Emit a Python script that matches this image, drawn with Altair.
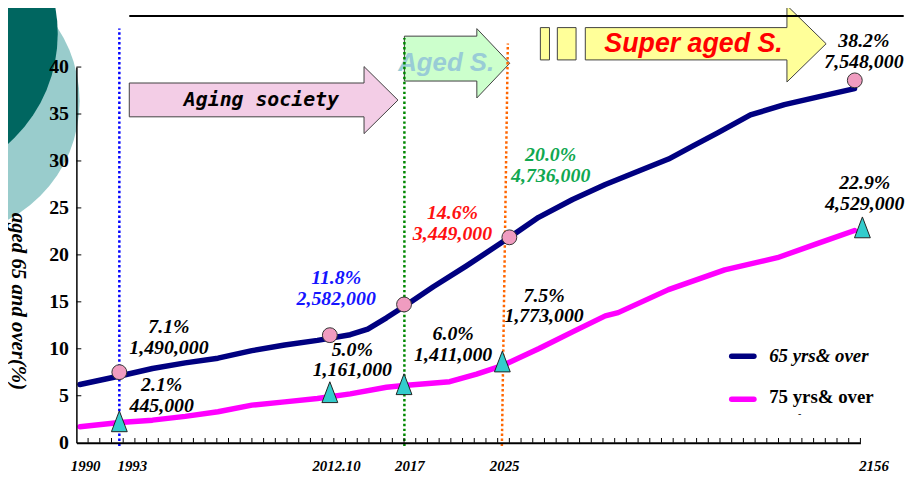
import altair as alt
import pandas as pd

# ---------------- data (x in tick units along the time axis, y in %) ----------------
X_MAX = 67
Y_MAX = 40
Y_TICKS = [0, 5, 10, 15, 20, 25, 30, 35, 40]

pos65 = [0.3, 3.7, 6.5, 9.3, 12.1, 15.0, 17.8, 20.6, 23.4, 24.9, 26.5, 28.0, 30.5, 33.3,
         36.7, 39.5, 42.4, 45.2, 48.0, 50.6, 52.7, 54.8, 57.6, 60.5, 63.3, 66.5]
pct65 = [6.2, 7.1, 7.9, 8.5, 9.0, 9.8, 10.4, 10.9, 11.5, 12.1, 13.3, 14.5, 16.6, 18.8,
         21.6, 24.0, 25.9, 27.5, 28.9, 30.2, 31.6, 33.0, 34.9, 36.0, 36.8, 37.7]
pos75 = [0.3, 3.7, 6.5, 9.3, 12.1, 15.0, 17.8, 20.6, 23.4, 26.5, 28.0, 31.9, 34.2, 36.4,
         39.5, 42.4, 45.2, 46.3, 50.6, 55.4, 59.9, 63.3, 66.5]
pct75 = [1.7, 2.15, 2.4, 2.8, 3.3, 4.0, 4.35, 4.7, 5.2, 5.9, 6.1, 6.5, 7.3, 8.2,
         10.0, 11.8, 13.5, 13.85, 16.3, 18.4, 19.7, 21.2, 22.6]

circle_x = [3.67, 21.66, 28.0, 37.0, 66.52]
circle_y = [7.51, 11.45, 14.72, 21.87, 38.58]
tri_x = [3.67, 21.66, 28.0, 36.4, 67.17]
tri_y = [2.28, 5.38, 6.23, 8.65, 22.93]

ann_pct = ["7.1%", "2.1%", "11.8%", "5.0%", "6.0%", "7.5%", "14.6%", "20.0%", "38.2%", "22.9%"]
ann_cnt = ["1,490,000", "445,000", "2,582,000", "1,161,000", "1,411,000", "1,773,000",
           "3,449,000", "4,736,000", "7,548,000", "4,529,000"]
ann_x = [7.91, 7.29, 22.2, 23.58, 32.2, 39.97, 32.14, 40.53, 67.3, 67.37]
ann_y = [12.3, 6.1, 17.5, 9.9, 11.6, 15.65, 24.45, 30.6, 42.75, 27.6]
ann_color = ["black", "black", "#1515FF", "black", "black", "black", "#FF1010", "#10A850",
             "black", "black"]

xlab_text = ["1990", "1993", "2012.10", "2017", "2025", "2156"]
xlab_pos = [0.79, 4.78, 22.23, 28.5, 36.6, 68.16]

# vertical dotted markers
vl_xb = [3.67, 28.03, 36.36]
vl_xt = [3.67, 28.03, 36.87]
vl_yt = [44.1, 43.1, 42.5]
vl_color = ["#0000FF", "#008800", "#FF6600"]

# arrows: x_left, x_head, x_tip, body_lo, body_hi, head_lo, head_hi, fill
arrows = [
    (4.52, 24.58, 27.48, 34.7, 38.3, 32.91, 40.05, "#F3CDE6"),
    (28.03, 34.22, 37.03, 38.51, 43.29, 36.71, 44.09, "#CCFFCC"),
    (43.49, 60.72, 64.07, 40.76, 44.2, 38.41, 46.55, "#FFFF99"),
]
rect_x = [39.65, 41.1]
rect_x2 = [40.43, 42.7]
rect_y = [40.76, 40.76]
rect_y2 = [44.2, 44.2]

# decorative circles top-left (light one first, dark one on top)
deco_x = [-11.16, -14.13]
deco_y = [36.36, 43.54]
deco_size = [72900, 87616]
deco_color = ["#99CCCC", "#006660"]

# ---------------- helpers ----------------
XS = alt.Scale(domain=[0, X_MAX], nice=False, zero=False)
YS = alt.Scale(domain=[0, Y_MAX], nice=False, zero=False)
AX = alt.Axis(labels=False, ticks=False, grid=False, domainColor="black", domainWidth=2,
              title=None, zindex=1)
AY = alt.Axis(values=Y_TICKS, ticks=False, grid=False, domainColor="black", domainWidth=1.5,
              labelFont="Liberation Serif", labelFontWeight="bold", labelFontSize=20,
              labelColor="black", labelPadding=8,
              title="aged 65 and over(%)", titleAngle=90, titleX=-59, titleY=236,
              titleFont="Liberation Serif", titleFontStyle="italic", titleFontWeight="bold",
              titleFontSize=21, titleAlign="center", titleBaseline="middle",
              titleColor="black", zindex=1)


def X(f):
    return alt.X(f, type="quantitative", scale=XS, axis=AX)


def Y(f):
    return alt.Y(f, type="quantitative", scale=YS, axis=AY)


layers = []

# decorative circles
deco = pd.DataFrame({"x": deco_x, "y": deco_y, "s": deco_size, "c": deco_color})
layers.append(alt.Chart(deco).mark_circle(opacity=1).encode(
    x=X("x"), y=Y("y"), size=alt.Size("s:Q", scale=None),
    color=alt.Color("c:N", scale=None)))

# arrows (one area per arrow, x strictly increasing)
for xl, xh, xt, bl, bh, hl, hh, fill in arrows:
    tc = (hl + hh) / 2
    adf = pd.DataFrame({
        "x": [xl, xh, xh + 0.002, xt],
        "lo": [bl, bl, hl, tc],
        "hi": [bh, bh, hh, tc],
    })
    layers.append(alt.Chart(adf).mark_area(fill=fill, stroke="#404040", strokeWidth=1,
                                           opacity=1, interpolate="linear").encode(
        x=X("x"), y=Y("lo"), y2="hi"))

rect_df = pd.DataFrame({"x": rect_x, "x2": rect_x2, "y": rect_y, "y2": rect_y2})
layers.append(alt.Chart(rect_df).mark_rect(fill="#FFFF99", stroke="#404040", strokeWidth=1).encode(
    x=X("x"), x2="x2", y=Y("y"), y2="y2"))

arrow_text = [
    ("Aging society", 15.81, 36.5, "DejaVu Sans Mono", 20, "black"),
    ("Aged S.", 31.6, 40.47, "Liberation Sans", 26, "#99CCD6"),
    ("Super aged S.", 52.74, 42.43, "Liberation Sans", 27, "#FF0000"),
]
for t, x, y, font, fs, col in arrow_text:
    layers.append(alt.Chart(pd.DataFrame({"t": [t], "x": [x], "y": [y]})).mark_text(
        font=font, fontSize=fs, fontWeight="bold", fontStyle="italic", color=col,
        align="center", baseline="middle").encode(x=X("x"), y=Y("y"), text="t:N"))

# top black line
layers.append(alt.Chart(pd.DataFrame({"x": [4.52], "x2": [70.7], "y": [45.44]})).mark_rule(
    color="black", strokeWidth=2).encode(x=X("x"), x2="x2", y=Y("y")))

# dotted vertical lines
vl_df = pd.DataFrame({"xb": vl_xb, "xt": vl_xt, "yb": [-0.35] * 3, "yt": vl_yt, "c": vl_color})
layers.append(alt.Chart(vl_df).mark_rule(strokeWidth=2.5, strokeDash=[2.5, 2.5]).encode(
    x=X("xb"), x2="xt", y=Y("yb"), y2="yt", color=alt.Color("c:N", scale=None)))

# inward axis ticks
xt_df = pd.DataFrame({"t": list(range(1, X_MAX + 1)), "y0": 0.0, "y1": 0.5})
layers.append(alt.Chart(xt_df).mark_rule(color="black", strokeWidth=1).encode(
    x=X("t"), y=Y("y0"), y2="y1"))
yt_df = pd.DataFrame({"v": Y_TICKS[1:], "x0": 0.0, "x1": 0.42})
layers.append(alt.Chart(yt_df).mark_rule(color="black", strokeWidth=1).encode(
    x=X("x0"), x2="x1", y=Y("v")))

# data lines
line_df = pd.concat([
    pd.DataFrame({"x": pos65, "y": pct65, "s": "65 yrs& over"}),
    pd.DataFrame({"x": pos75, "y": pct75, "s": "75 yrs& over"}),
])
layers.append(alt.Chart(line_df).mark_line(strokeWidth=5.5, strokeCap="round",
                                           strokeJoin="round").encode(
    x=X("x"), y=Y("y"), detail="s:N",
    color=alt.Color("s:N", scale=alt.Scale(domain=["65 yrs& over", "75 yrs& over"],
                                           range=["#000080", "#FF00FF"]), legend=None)))

# markers
layers.append(alt.Chart(pd.DataFrame({"x": circle_x, "y": circle_y})).mark_point(
    shape="circle", filled=True, size=225, fill="#F09CC0", stroke="#333333",
    strokeWidth=1, opacity=1).encode(x=X("x"), y=Y("y")))
layers.append(alt.Chart(pd.DataFrame({"x": tri_x, "y": tri_y})).mark_point(
    shape="M0,-1L0.76,1L-0.76,1Z", filled=True, size=441, fill="#33CCCC",
    stroke="#222222", strokeWidth=1, opacity=1).encode(x=X("x"), y=Y("y")))

# annotations
ann_df = pd.DataFrame({"x": ann_x, "y": ann_y, "p": ann_pct, "n": ann_cnt, "c": ann_color})
txt = dict(font="Liberation Serif", fontSize=20, fontWeight="bold", fontStyle="italic",
           align="center", baseline="middle")
layers.append(alt.Chart(ann_df).mark_text(**txt).encode(
    x=X("x"), y=Y("y"), text="p:N", color=alt.Color("c:N", scale=None)))
layers.append(alt.Chart(ann_df).mark_text(dy=21, **txt).encode(
    x=X("x"), y=Y("y"), text="n:N", color=alt.Color("c:N", scale=None)))

# x labels
xl_df = pd.DataFrame({"x": xlab_pos, "y": [-2.5] * len(xlab_pos), "t": xlab_text})
layers.append(alt.Chart(xl_df).mark_text(font="Liberation Serif", fontSize=15, fontWeight="bold",
                                         fontStyle="italic", color="black", align="center",
                                         baseline="middle").encode(
    x=X("x"), y=Y("y"), text="t:N"))

# legend
leg_df = pd.DataFrame({"x": [56.0, 56.0], "x2": [57.9, 57.9], "y": [9.2, 4.62],
                       "c": ["#000080", "#FF00FF"]})
layers.append(alt.Chart(leg_df).mark_rule(strokeWidth=5.5, strokeCap="round").encode(
    x=X("x"), x2="x2", y=Y("y"), color=alt.Color("c:N", scale=None)))
layers.append(alt.Chart(pd.DataFrame({"x": [59.2], "y": [9.2], "t": ["65 yrs& over"]})).mark_text(
    font="Liberation Serif", fontSize=19, fontWeight="bold", fontStyle="italic", color="black",
    align="left", baseline="middle").encode(x=X("x"), y=Y("y"), text="t:N"))
layers.append(alt.Chart(pd.DataFrame({"x": [59.2], "y": [4.9], "t": ["75 yrs& over"]})).mark_text(
    font="Liberation Serif", fontSize=19, fontWeight="bold", color="black",
    align="left", baseline="middle").encode(x=X("x"), y=Y("y"), text="t:N"))
layers.append(alt.Chart(pd.DataFrame({"x": [61.8], "y": [3.1], "t": ["-"]})).mark_text(
    font="Liberation Serif", fontSize=10, color="black", align="center",
    baseline="middle").encode(x=X("x"), y=Y("y"), text="t:N"))

chart = alt.layer(*layers).properties(
    width=791, height=379,
    padding={"left": 69, "top": 57.5, "right": 47, "bottom": 29.5},
    autosize=alt.AutoSizeParams(type="none"),
).configure_view(stroke=None)

chart.save("out.html", embed_options={"renderer": "svg", "actions": False})
